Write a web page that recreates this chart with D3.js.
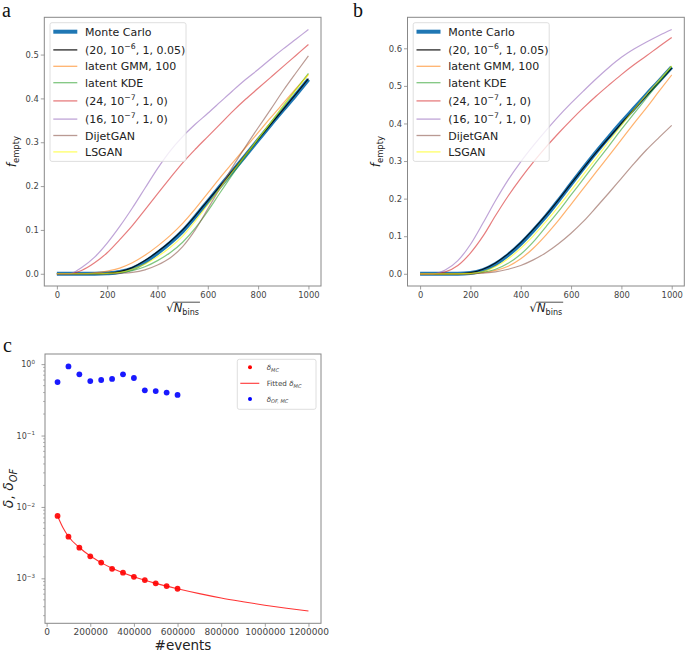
<!DOCTYPE html>
<html><head><meta charset="utf-8">
<script src="https://cdn.jsdelivr.net/npm/d3@7"></script>
<style>body{margin:0;background:#fff} svg{display:block} text{font-family:"DejaVu Sans",sans-serif}</style>
</head><body><svg id="chart" width="685" height="651"></svg>
<script>
// ---------------- DATA ----------------
const X_BINS = [0,50,100,150,200,250,300,350,400,450,500,550,600,650,700,750,800,850,900,950,1000];
const X_TICKS = [0,200,400,600,800,1000];
const SERIES_LABELS = ["Monte Carlo","(20, 10^{−6}, 1, 0.05)","latent GMM, 100","latent KDE","(24, 10^{−7}, 1, 0)","(16, 10^{−7}, 1, 0)","DijetGAN","LSGAN"];

// panel a
const A_MC     = [0,0,0,0,0.001,0.004,0.012,0.027,0.047,0.07,0.097,0.13,0.165,0.2,0.235,0.27,0.305,0.34,0.374,0.408,0.443];
const A_BLACK  = [0,0,0,0,0.001,0.005,0.014,0.03,0.05,0.073,0.1,0.132,0.167,0.201,0.236,0.271,0.306,0.341,0.375,0.41,0.445];
const A_GMM    = [0,0,0,0.002,0.006,0.013,0.025,0.042,0.063,0.087,0.115,0.148,0.184,0.22,0.254,0.288,0.322,0.356,0.389,0.422,0.455];
const A_KDE    = [0,0,0,0,0,0.002,0.007,0.016,0.03,0.048,0.072,0.104,0.143,0.186,0.228,0.268,0.307,0.345,0.383,0.42,0.457];
const A_RED    = [0,0,0.008,0.025,0.048,0.078,0.11,0.146,0.182,0.218,0.253,0.284,0.313,0.342,0.371,0.398,0.423,0.448,0.473,0.498,0.523];
const A_PURPLE = [0,0,0.015,0.038,0.07,0.108,0.15,0.195,0.24,0.28,0.313,0.341,0.366,0.392,0.418,0.443,0.466,0.49,0.513,0.535,0.557];
const A_DIJET  = [0,0,0,0,0,0.001,0.003,0.009,0.02,0.036,0.062,0.1,0.148,0.197,0.245,0.29,0.333,0.375,0.418,0.458,0.497];
const A_LSGAN  = [0,0,0,0,0.001,0.003,0.01,0.022,0.039,0.06,0.086,0.12,0.158,0.196,0.234,0.271,0.308,0.345,0.382,0.419,0.455];
const A_Y_TICKS = [0,0.1,0.2,0.3,0.4,0.5];

// panel b
const B_MC     = [0,0,0,0,0.002,0.01,0.026,0.05,0.08,0.115,0.153,0.195,0.239,0.282,0.324,0.364,0.403,0.44,0.477,0.513,0.55];
const B_BLACK  = [0,0,0,0,0.003,0.012,0.029,0.053,0.083,0.118,0.156,0.197,0.24,0.282,0.323,0.362,0.4,0.437,0.474,0.51,0.547];
const B_GMM    = [0,0,0,0,0,0.003,0.009,0.02,0.04,0.068,0.103,0.142,0.185,0.228,0.271,0.314,0.357,0.4,0.442,0.486,0.529];
const B_KDE    = [0,0,0,0,0,0.004,0.012,0.028,0.052,0.085,0.125,0.166,0.21,0.253,0.297,0.34,0.384,0.426,0.468,0.51,0.552];
const B_RED    = [0,0,0.005,0.022,0.055,0.1,0.155,0.207,0.254,0.297,0.337,0.374,0.409,0.442,0.473,0.502,0.53,0.556,0.58,0.605,0.629];
const B_PURPLE = [0,0,0.01,0.035,0.078,0.135,0.195,0.25,0.298,0.341,0.381,0.419,0.454,0.487,0.519,0.549,0.576,0.598,0.617,0.634,0.65];
const B_DIJET  = [0,0,0,0,0,0.002,0.005,0.012,0.022,0.037,0.056,0.08,0.108,0.14,0.177,0.215,0.254,0.293,0.33,0.363,0.395];
const B_LSGAN  = [0,0,0,0,0.001,0.006,0.019,0.04,0.068,0.101,0.139,0.179,0.222,0.265,0.308,0.352,0.395,0.437,0.477,0.515,0.553];
const B_Y_TICKS = [0,0.1,0.2,0.3,0.4,0.5,0.6];

// panel c
const C_EVENTS   = [50000,100000,150000,200000,250000,300000,350000,400000,450000,500000,550000,600000];
const C_DELTA_MC = [0.00747,0.00383,0.00269,0.00203,0.00166,0.00136,0.0012,0.00105,0.000946,0.00085,0.00078,0.000714];
const C_DELTA_OF = [0.56,0.93,0.72,0.58,0.6,0.62,0.72,0.64,0.43,0.42,0.40,0.37];
const C_FIT_EVENTS = [50000,75000,100000,150000,200000,250000,300000,400000,500000,600000,700000,800000,900000,1000000,1100000,1200000];
const C_FIT_DELTA  = [0.00747,0.0051,0.00385,0.0027,0.00205,0.00166,0.00138,0.00105,0.00085,0.000714,0.00061,0.00053,0.00047,0.00042,0.00038,0.000348];
const C_X_TICKS = [0,200000,400000,600000,800000,1000000,1200000];
const C_Y_MAJOR = [1e-3,1e-2,1e-1,1];
const C_LEGEND = ["$δ_{MC}$","Fitted $δ_{MC}$","$δ_{OF, MC}$"];

// ---------------- STYLE ----------------
const LINE_STYLES = [
  {color:"#1f77b4", w:4,   op:1},
  {color:"#000000", w:1.2, op:0.85},
  {color:"#ff7f0e", w:1.2, op:0.6},
  {color:"#2ca02c", w:1.2, op:0.6},
  {color:"#d62728", w:1.2, op:0.6},
  {color:"#9467bd", w:1.2, op:0.6},
  {color:"#8c564b", w:1.2, op:0.6},
  {color:"#ffff00", w:1.2, op:0.6}
];
const FRAME = "#888";
const TICKTXT = "#444";

const svg = d3.select("#chart");

function rich(textSel, str, size) {
  const runs = []; let italic = false; let buf = ""; let i = 0;
  const flush = () => { if (buf) { runs.push({t:buf, mode:"n", it:italic}); buf = ""; } };
  while (i < str.length) {
    const ch = str[i];
    if (ch === "$") { flush(); italic = !italic; i++; continue; }
    if ((ch === "^" || ch === "_") && str[i+1] === "{") {
      flush(); const j = str.indexOf("}", i);
      runs.push({t:str.slice(i+2, j), mode: ch === "^" ? "sup" : "sub", it:italic});
      i = j + 1; continue;
    }
    buf += ch; i++;
  }
  flush();
  let cur = 0;
  runs.forEach(r => {
    const target = r.mode === "sup" ? -0.42*size : (r.mode === "sub" ? 0.25*size : 0);
    textSel.append("tspan").text(r.t)
      .attr("dy", (target - cur) + "px")
      .attr("font-size", (r.mode === "n" ? size : size*0.7) + "px")
      .attr("font-style", r.it ? "italic" : "normal");
    cur = target;
  });
  return textSel;
}

function styleAxis(g, fs) {
  g.select(".domain").remove();
  g.selectAll(".tick line").attr("stroke", FRAME).attr("stroke-width", 0.8);
  g.selectAll(".tick text").attr("fill", TICKTXT).attr("font-size", fs + "px").attr("font-family", "DejaVu Sans");
}

function sqrtLabel(g, cx, y, size) {
  const t = g.append("text").attr("x", cx).attr("y", y).attr("text-anchor", "middle").attr("fill", "#222");
  rich(t, "√$N$_{bins}", size);
  const bb = t.node().getBBox();
  const rootW = t.select("tspan").node().getComputedTextLength();
  g.append("line").attr("x1", bb.x + rootW*0.92).attr("x2", bb.x + bb.width + 1)
    .attr("y1", bb.y + 1.2).attr("y2", bb.y + 1.2).attr("stroke", "#222").attr("stroke-width", 0.8);
}

function drawCurvePanel(o) {
  const g = svg.append("g");
  const x = d3.scaleLinear().domain([-50, 1050]).range([o.left, o.left + o.w]);
  const y = d3.scaleLinear().domain(o.yDomain).range([o.top + o.h, o.top]);
  const line = d3.line().x((d, j) => x(X_BINS[j])).y(d => y(d)).curve(d3.curveMonotoneX);
  o.series.forEach((vals, k) => {
    const st = LINE_STYLES[k];
    g.append("path").datum(vals).attr("fill", "none").attr("stroke", st.color)
      .attr("stroke-width", st.w).attr("stroke-opacity", st.op).attr("stroke-linejoin", "round").attr("d", line);
  });
  g.append("rect").attr("x", o.left).attr("y", o.top).attr("width", o.w).attr("height", o.h)
    .attr("fill", "none").attr("stroke", FRAME).attr("stroke-width", 1);
  const gx = g.append("g").attr("transform", `translate(0,${o.top + o.h})`)
    .call(d3.axisBottom(x).tickValues(X_TICKS).tickSize(3.5).tickPadding(2.8).tickFormat(d3.format("d")));
  styleAxis(gx, 8.4);
  const gy = g.append("g").attr("transform", `translate(${o.left},0)`)
    .call(d3.axisLeft(y).tickValues(o.yTicks).tickSize(3.5).tickPadding(2).tickFormat(d3.format(".1f")));
  styleAxis(gy, 8.4);
  // axis labels
  const yl = g.append("text").attr("transform", `translate(${o.left - 28},${o.top + o.h/2}) rotate(-90)`)
    .attr("text-anchor", "middle").attr("fill", "#222");
  rich(yl, "$f$_{empty}", 12);
  sqrtLabel(g, o.left + o.w/2, o.top + o.h + 26, 11.5);
  // legend
  const lx = o.left + 5.7, ly = o.top + 5.4;
  const rows = []; let yy = ly + 9;
  SERIES_LABELS.forEach((s, k) => {
    const tall = s.indexOf("^{") >= 0;
    if (k > 0) yy += tall ? 18.2 : 16.4;
    rows.push(yy);
  });
  g.append("rect").attr("x", lx).attr("y", ly).attr("width", 136).attr("height", rows[rows.length-1] + 9.5 - ly)
    .attr("rx", 2).attr("fill", "#fff").attr("fill-opacity", 0.8).attr("stroke", "#d6d6d6").attr("stroke-width", 0.8);
  SERIES_LABELS.forEach((s, k) => {
    const st = LINE_STYLES[k];
    g.append("line").attr("x1", lx + 3.3).attr("x2", lx + 27.3).attr("y1", rows[k]).attr("y2", rows[k])
      .attr("stroke", st.color).attr("stroke-opacity", st.op).attr("stroke-width", k === 0 ? 4 : 1.3);
    const t = g.append("text").attr("x", lx + 35).attr("y", rows[k] + 4).attr("fill", "#222");
    rich(t, s, 11);
  });
}

drawCurvePanel({left:44.3, top:17.3, w:276.7, h:268.7, yDomain:[-0.0279, 0.585], yTicks:A_Y_TICKS,
  series:[A_MC, A_BLACK, A_GMM, A_KDE, A_RED, A_PURPLE, A_DIJET, A_LSGAN]});
drawCurvePanel({left:407.5, top:17.3, w:276.8, h:268.7, yDomain:[-0.0325, 0.6825], yTicks:B_Y_TICKS,
  series:[B_MC, B_BLACK, B_GMM, B_KDE, B_RED, B_PURPLE, B_DIJET, B_LSGAN]});

// panel labels
[["a",2,17],["b",353,17],["c",3,352]].forEach(p => {
  svg.append("text").attr("x", p[1]).attr("y", p[2]).text(p[0])
    .style("font-family", "'Liberation Serif','DejaVu Serif',serif")
    .style("font-size", "20px").attr("fill", "#111");
});

// ---------------- panel c ----------------
(function(){
  const o = {left:45, top:354, w:276, h:269.3};
  const g = svg.append("g");
  const x = d3.scaleLinear().domain([-7500, 1257500]).range([o.left, o.left + o.w]);
  const y = d3.scaleLog().domain([Math.pow(10, -3.63), Math.pow(10, 0.142)]).range([o.top + o.h, o.top]);
  g.append("path").datum(C_FIT_DELTA).attr("fill", "none").attr("stroke", "#ff0000").attr("stroke-opacity", 0.8)
    .attr("stroke-width", 1.1)
    .attr("d", d3.line().x((d, j) => x(C_FIT_EVENTS[j])).y(d => y(d)).curve(d3.curveMonotoneX));
  g.selectAll("circle.mc").data(C_DELTA_MC).enter().append("circle").attr("class", "mc")
    .attr("cx", (d, j) => x(C_EVENTS[j])).attr("cy", d => y(d)).attr("r", 2.9).attr("fill", "#ff0000").attr("fill-opacity", 0.9);
  g.selectAll("circle.of").data(C_DELTA_OF).enter().append("circle").attr("class", "of")
    .attr("cx", (d, j) => x(C_EVENTS[j])).attr("cy", d => y(d)).attr("r", 2.9).attr("fill", "#0000ff").attr("fill-opacity", 0.9);
  g.append("rect").attr("x", o.left).attr("y", o.top).attr("width", o.w).attr("height", o.h)
    .attr("fill", "none").attr("stroke", FRAME).attr("stroke-width", 1);
  const gx = g.append("g").attr("transform", `translate(0,${o.top + o.h})`)
    .call(d3.axisBottom(x).tickValues(C_X_TICKS).tickSize(3.5).tickPadding(2).tickFormat(d3.format("d")));
  styleAxis(gx, 9);
  // y axis log
  const gy = g.append("g").attr("transform", `translate(${o.left},0)`)
    .call(d3.axisLeft(y).tickValues(C_Y_MAJOR).tickSize(3.5).tickPadding(3).tickFormat(""));
  styleAxis(gy, 8);
  const minor = [];
  const [d0, d1] = y.domain();
  for (let e = -4; e <= 0; e++) for (let m = 2; m <= 9; m++) { const v = m * Math.pow(10, e); if (v >= d0 && v <= d1) minor.push(v); }
  g.selectAll("line.minor").data(minor).enter().append("line").attr("x1", o.left - 2).attr("x2", o.left)
    .attr("y1", d => y(d)).attr("y2", d => y(d)).attr("stroke", FRAME).attr("stroke-width", 0.6);
  C_Y_MAJOR.forEach(v => {
    const t = g.append("text").attr("x", o.left - 10).attr("y", y(v) + 3).attr("text-anchor", "end").attr("fill", TICKTXT);
    const ex = Math.round(Math.log10(v));
    rich(t, "10^{" + (ex < 0 ? "−" + (-ex) : ex) + "}", 8);
  });
  // labels
  g.append("text").attr("x", o.left + o.w/2).attr("y", 649.5).attr("text-anchor", "middle")
    .attr("font-size", "13.5px").attr("fill", "#222").text("#events");
  const yl = g.append("text").attr("transform", `translate(13,${o.top + o.h/2}) rotate(-90)`)
    .attr("text-anchor", "middle").attr("fill", "#222");
  rich(yl, "$δ$, $δ_{OF}$", 14);
  // legend
  const lx = 237.3, ly = 359.3;
  g.append("rect").attr("x", lx).attr("y", ly).attr("width", 78.7).attr("height", 50)
    .attr("rx", 2).attr("fill", "#fff").attr("fill-opacity", 0.8).attr("stroke", "#d6d6d6").attr("stroke-width", 0.8);
  const rowsC = [367.3, 383.3, 399];
  g.append("circle").attr("cx", lx + 12.7).attr("cy", rowsC[0]).attr("r", 2).attr("fill", "#ff0000");
  g.append("line").attr("x1", lx + 3).attr("x2", lx + 22).attr("y1", rowsC[1]).attr("y2", rowsC[1])
    .attr("stroke", "#ff0000").attr("stroke-opacity", 0.8).attr("stroke-width", 1.1);
  g.append("circle").attr("cx", lx + 12.7).attr("cy", rowsC[2]).attr("r", 2).attr("fill", "#0000ff");
  C_LEGEND.forEach((s, k) => {
    const t = g.append("text").attr("x", lx + 29.4).attr("y", rowsC[k] + 2.6).attr("fill", "#444");
    rich(t, s, 7.2);
  });
})();
</script></body></html>
